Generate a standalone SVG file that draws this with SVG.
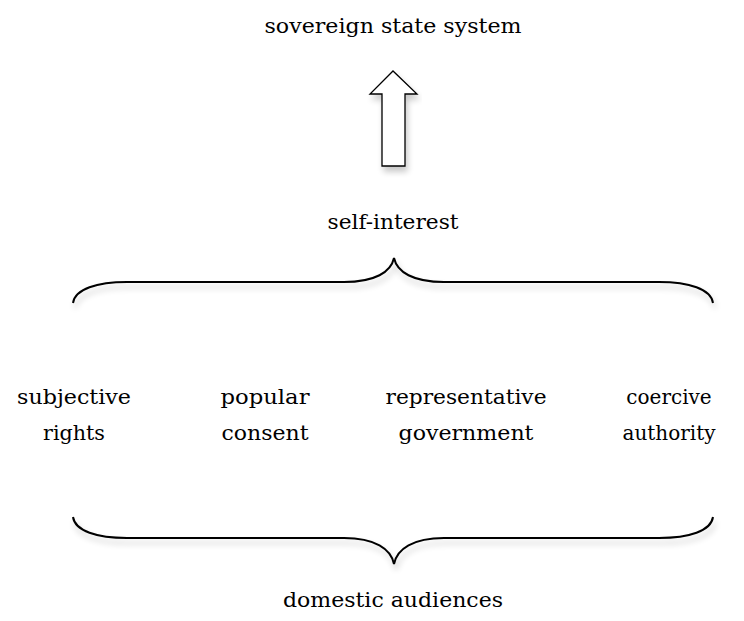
<svg xmlns="http://www.w3.org/2000/svg" width="744" height="621" viewBox="0 0 744 621">
<defs>
<filter id="sh" x="-10%" y="-30%" width="120%" height="180%">
<feGaussianBlur in="SourceAlpha" stdDeviation="3"/>
<feOffset dx="2" dy="5" result="b"/>
<feComponentTransfer><feFuncA type="linear" slope="0.22"/></feComponentTransfer>
<feMerge><feMergeNode/><feMergeNode in="SourceGraphic"/></feMerge>
</filter>
<style>
text{font-family:"DejaVu Serif","Liberation Serif",serif;font-size:20px;fill:#000;text-anchor:middle}
.ln{fill:none;stroke:#000;stroke-width:2}
</style>
</defs>
<rect width="744" height="621" fill="#fff"/>
<g id="sovereign"><text x="393" y="33" textLength="257" lengthAdjust="spacingAndGlyphs">sovereign state system</text></g>
<g id="selfinterest"><text x="393" y="229" textLength="131" lengthAdjust="spacingAndGlyphs">self-interest</text></g>
<g id="subjective"><text x="74" y="404" textLength="114" lengthAdjust="spacingAndGlyphs">subjective</text><text x="74" y="440" textLength="62" lengthAdjust="spacingAndGlyphs">rights</text></g>
<g id="popular"><text x="265" y="404" textLength="89" lengthAdjust="spacingAndGlyphs">popular</text><text x="265" y="440" textLength="87" lengthAdjust="spacingAndGlyphs">consent</text></g>
<g id="representative"><text x="466" y="404" textLength="161" lengthAdjust="spacingAndGlyphs">representative</text><text x="466" y="440" textLength="135" lengthAdjust="spacingAndGlyphs">government</text></g>
<g id="coercive"><text x="669" y="404">coercive</text><text x="669" y="440">authority</text></g>
<g id="domestic"><text x="393" y="607" textLength="220" lengthAdjust="spacingAndGlyphs">domestic audiences</text></g>
<g id="connectors">
<path class="ln" filter="url(#sh)" style="fill:#fff;stroke-width:1.3" d="M382,166 L382,94 L370,94 L393,71 L417,94 L405,94 L405,166 Z"/>
<path class="ln" filter="url(#sh)" d="M73,303 C75,289 97,282 127,282 L344,282 C375,282 391,272 394,258 C397,272 413,282 444,282 L659,282 C689,282 711,289 713,303"/>
<path class="ln" filter="url(#sh)" d="M73,517 C75,531 97,538 127,538 L344,538 C375,538 391,549 394,564 C397,549 413,538 444,538 L659,538 C689,538 711,531 713,517"/>
</g>
</svg>
